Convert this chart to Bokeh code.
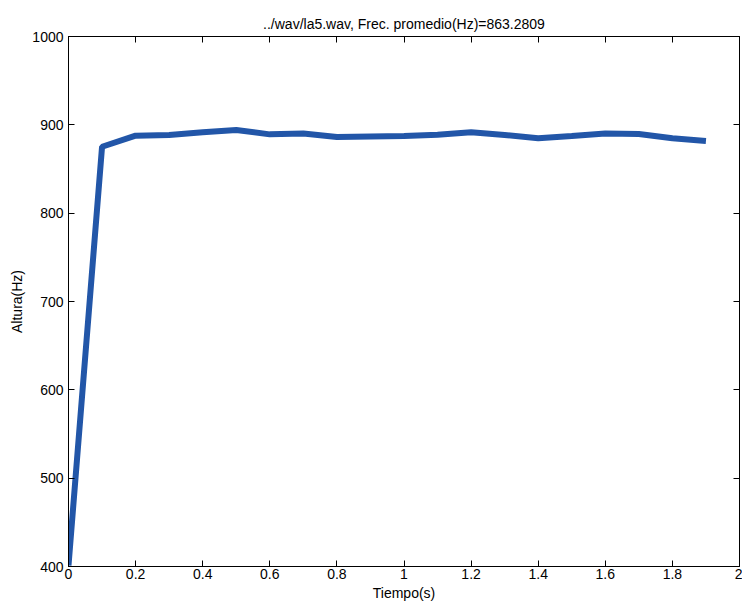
from bokeh.plotting import figure
from bokeh.models import Range1d, FixedTicker, CustomJSTickFormatter, LinearAxis
from bokeh.embed import file_html
from bokeh.resources import INLINE

# data
tiempo = [0.0, 0.1, 0.2, 0.3, 0.4, 0.5, 0.6, 0.7, 0.8, 0.9,
          1.0, 1.1, 1.2, 1.3, 1.4, 1.5, 1.6, 1.7, 1.8, 1.9]
altura = [401.2, 875.2, 887.7, 888.5, 891.5, 894.2, 889.2, 890.3, 886.2, 886.9,
          887.4, 888.9, 891.5, 888.5, 884.7, 887.4, 890.3, 889.6, 884.7, 881.7]
x_ticks = [0, 0.2, 0.4, 0.6, 0.8, 1, 1.2, 1.4, 1.6, 1.8, 2]
y_ticks = [400, 500, 600, 700, 800, 900, 1000]
title_text = "../wav/la5.wav, Frec. promedio(Hz)=863.2809"
x_label = "Tiempo(s)"
y_label = "Altura(Hz)"

FONT = "Liberation Sans"

p = figure(width=742, height=604, output_backend="svg", toolbar_location=None,
           x_range=Range1d(0, 2), y_range=Range1d(400, 1000),
           min_border_left=68, min_border_right=3, min_border_top=36, min_border_bottom=38)

p.line(tiempo, altura, line_color="#2256a8", line_width=6)

p.title.text = title_text
p.title.align = "center"
p.title.text_font = FONT
p.title.text_font_size = "14px"
p.title.text_font_style = "normal"
p.title.text_color = "black"

p.grid.visible = False
p.outline_line_color = "black"
p.outline_line_width = 1
p.background_fill_color = "white"
p.border_fill_color = "white"

fmt = CustomJSTickFormatter(code="return tick.toString();")
blank = CustomJSTickFormatter(code="return '';")

def style(ax, ticks, show_labels=True):
    ax.ticker = FixedTicker(ticks=ticks)
    ax.formatter = fmt if show_labels else blank
    ax.major_tick_in = 6
    ax.major_tick_out = 0
    ax.minor_tick_line_color = None
    ax.axis_line_color = "black"
    ax.major_tick_line_color = "black"
    ax.major_label_text_font = FONT
    ax.major_label_text_font_size = "14px"
    ax.major_label_text_color = "black"
    ax.axis_label_text_font = FONT
    ax.axis_label_text_font_size = "14px"
    ax.axis_label_text_font_style = "normal"
    ax.axis_label_text_color = "black"
    if not show_labels:
        ax.major_label_standoff = 0

style(p.xaxis[0], x_ticks)
style(p.yaxis[0], y_ticks)
p.xaxis[0].axis_label = x_label
p.yaxis[0].axis_label = y_label
p.xaxis[0].major_label_standoff = 2
p.xaxis[0].axis_label_standoff = 3
p.yaxis[0].major_label_standoff = 5
p.yaxis[0].axis_label_standoff = 4

top_ax = LinearAxis()
style(top_ax, x_ticks, show_labels=False)
right_ax = LinearAxis()
style(right_ax, y_ticks, show_labels=False)
p.add_layout(top_ax, "above")
p.add_layout(right_ax, "right")

open("out.html", "w").write(file_html(p, INLINE))
